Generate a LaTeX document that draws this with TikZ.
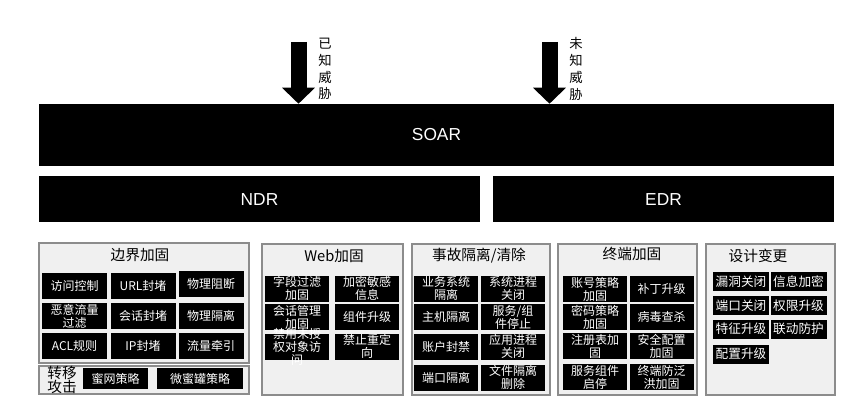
\documentclass[tikz,border=0pt]{standalone}
\usepackage{fontspec}
\setmainfont{Noto Sans CJK SC}
\newfontfamily\barfont{Liberation Sans}
\usetikzlibrary{arrows.meta}
\newcommand\pxl{0.75pt}
\tikzset{
	bar/.style={fill=black,text=white,inner sep=0,font=\barfont\fontsize{13}{15}\selectfont},
	grp/.style={draw=black!45,fill=black!6,line width=0.9pt},
	cell/.style 2 args={fill=black,inner sep=0,minimum width=#1*\pxl,minimum height=#2*\pxl},
	ctext/.style={text=white,align=center,inner sep=0,font=\fontsize{9}{9.8}\selectfont},
	ttl/.style={inner sep=0,font=\fontsize{11}{13}\selectfont},
	threat/.style={align=center,inner sep=0,font=\fontsize{10}{12.6}\selectfont},
	fat/.style={line width=12pt,-{Triangle[width=24pt,length=12pt]}}
}
\begin{document}
\begin{tikzpicture}[x=0.75pt,y=-0.75pt]
		\useasboundingbox (0,0) rectangle (863,420);
		\node[bar,minimum width=795*\pxl,minimum height=62*\pxl] (soar) at (436.5,135) {SOAR};
		\node[bar,minimum width=441*\pxl,minimum height=46*\pxl] (ndr) at (259.5,199.5) {NDR};
		\node[bar,minimum width=341*\pxl,minimum height=46*\pxl] (edr) at (663.5,199.5) {EDR};
		\coordinate (k1) at (298.5,42);
		\coordinate (k2) at (549.5,42);
		\draw[fat] (k1) -- (k1 |- soar.north);
		\draw[fat] (k2) -- (k2 |- soar.north);
		\node[threat] (t1) at (325,69) {已\\知\\威\\胁};
		\node[threat] (t2) at (576,69) {未\\知\\威\\胁};
		% groups
		\draw[grp] (39,243) rectangle (249,363) (39,366) rectangle (249,394);
		\draw[grp] (262,244) rectangle (403,395) (412,244) rectangle (550,395);
		\draw[grp] (558,244) rectangle (697,395) (706,244) rectangle (835,395);
		\node[ttl] (h1) at (140,255) {边界加固};
		\node[ttl] (h2) at (334,256) {Web加固};
		\node[ttl] (h3) at (479,256) {事故隔离/清除};
		\node[ttl] (h4) at (632,254) {终端加固};
		\node[ttl] (h5) at (758,256) {设计变更};
		\node[ttl,align=center,font=\fontsize{11}{10.5}\selectfont] (h6) at (62,380) {转移\\攻击};
		\foreach \n/\x/\y/\t in {b1/74.5/286/访问控制,b2/143/286/URL封堵,b3/211/284/物理阻断,
			b4/74.5/316/{恶意流量\\过滤},b5/143/316/会话封堵,b6/211/316/物理隔离,
			b7/74.5/345.5/ACL规则,b8/143/345.5/IP封堵,b9/211/345.5/流量牵引}
		\node[cell={65}{26},label={[ctext]center:\t}] (\n) at (\x,\y) {};
		\node[cell={65}{21},label={[ctext]center:蜜网策略}] (m1) at (115.5,378.5) {};
		\node[cell={86}{21},label={[ctext]center:微蜜罐策略}] (m2) at (200,378.5) {};
		\foreach \n/\x/\y/\t in {w1/297/288.5/{字段过滤\\加固},w2/367/288.5/{加密敏感\\信息},
			w3/297/317/{会话管理\\加固},w4/367/317/组件升级,
			w5/297/346.5/{禁用未授\\权对象访\\问},w6/367/346.5/{禁止重定\\向}}
		\node[cell={64}{26},label={[ctext]center:\t}] (\n) at (\x,\y) {};
		\foreach \n/\x/\y/\t in {s1/446/288.5/{业务系统\\隔离},s2/513/288.5/{系统进程\\关闭},
			s3/446/317/主机隔离,s4/513/317/{服务/组\\件停止},
			s5/446/346.5/账户封禁,s6/513/346.5/{应用进程\\关闭},
			s7/446/377.5/端口隔离,s8/513/377.5/{文件隔离\\删除}}
		\node[cell={64}{26},label={[ctext]center:\t}] (\n) at (\x,\y) {};
		\foreach \n/\x/\y/\t in {e1/595/289/{账号策略\\加固},e2/661.5/289/补丁升级,
			e3/595/317/{密码策略\\加固},e4/661.5/317/病毒查杀,
			e5/595/346/{注册表加\\固},e6/661.5/346/{安全配置\\加固},
			e7/595/377/{服务组件\\启停},e8/661.5/377/{终端防泛\\洪加固}}
		\node[cell={64}{26},label={[ctext]center:\t}] (\n) at (\x,\y) {};
		\foreach \n/\x/\y/\t in {d1/741/281.5/漏洞关闭,d2/798.5/281.5/信息加密,
			d3/741/305.5/端口关闭,d4/798.5/305.5/权限升级,
			d5/741/329/特征升级,d6/798.5/329/联动防护,d7/741/354/配置升级}
		\node[cell={56}{19},label={[ctext,font=\fontsize{9.5}{10}\selectfont]center:\t}] (\n) at (\x,\y) {};
\end{tikzpicture}
\end{document}
